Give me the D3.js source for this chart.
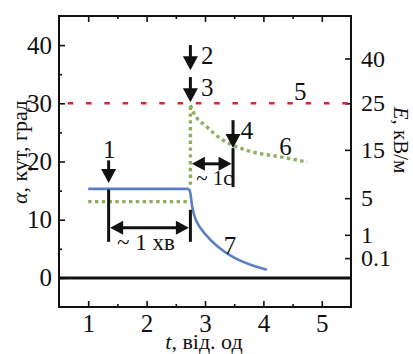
<!DOCTYPE html>
<html><head><meta charset="utf-8">
<script src="https://cdn.jsdelivr.net/npm/d3@7"></script>
<style>body{margin:0;background:#fff}svg{display:block}text{font-family:"Liberation Serif",Tinos,"Times New Roman","DejaVu Serif",serif;fill:#111}</style>
</head><body><svg id="c" width="413" height="354"></svg>
<script>
// ---- data ----
const tTicks = [1, 2, 3, 4, 5];
const tMinor = [1.5, 2.5, 3.5, 4.5];
const alphaTicks = [0, 10, 20, 30, 40];
const alphaMinor = [5, 15, 25, 35];
const eTickLabels = ["40", "25", "15", "5", "1", "0.1"];
const eTickAlpha = [37.7, 30, 22, 13.7, 7.4, 3.4];

const zeroLine = [[0.5, 0], [5.5, 0]];
const thresholdT = [0.65, 5.5];
const thresholdAlpha = 30;

const blueT = [1.0, 2.72, 2.75, 2.775, 2.83, 2.975, 3.2, 3.49, 3.78, 4.06];
const blueA = [15.3, 15.3, 15.0, 12.2, 9.9, 7.7, 5.4, 3.4, 2.2, 1.4];

const greenFlatT = [1.0, 2.72];
const greenFlatA = [13.1, 13.1];
const greenVertT = [2.75, 2.75];
const greenVertA = [16.0, 29.7];
const greenDecayT = [2.75, 2.80, 3.04, 3.26, 3.48, 3.83, 4.29, 4.75];
const greenDecayA = [29.7, 28.5, 25.9, 24.0, 22.8, 21.6, 20.8, 19.9];

// down arrows: t, alpha top, alpha tip, label, label t, label alpha
const arrowT = [1.35, 2.75, 2.75, 3.48];
const arrowTop = [20.2, 40.0, 34.5, 27.1];
const arrowTip = [16.3, 35.7, 30.2, 22.3];
const arrowLbl = ["1", "2", "3", "4"];
const arrowLblT = [1.36, 3.04, 3.04, 3.72];
const arrowLblA = [22.0, 38.2, 32.7, 25.3];

// interval markers
const barsT = [1.35, 2.75, 3.48];
const barsTop = [15.2, 11.7, 22.3];
const barsBot = [6.2, 6.2, 15.6];
const spanFrom = [1.35, 2.75];
const spanTo = [2.75, 3.48];
const spanA = [8.6, 19.6];

const curveLbl = ["5", "6", "7"];
const curveLblT = [4.63, 4.38, 3.43];
const curveLblA = [32.0, 22.6, 5.6];

// ---- chart ----
const FONT = '"Liberation Serif",Tinos,"Times New Roman","DejaVu Serif",serif';
const svg = d3.select("#c");
const L = 59, R = 351, T = 16, B = 307;
const x = d3.scaleLinear().domain([0.5, 5.5]).range([L, R]);
const y = d3.scaleLinear().domain([-5, 45]).range([B, T]);

const fs = 25;

function axisStyle(g) {
  g.attr("font-family", FONT);
  g.select(".domain").remove();
  g.selectAll(".tick line").attr("stroke", "#111").attr("stroke-width", 1.6);
  g.selectAll("text").style("font-family", FONT).style("font-size", fs + "px").attr("fill", "#111");
}
svg.append("g").attr("transform", `translate(0,${B})`)
  .call(d3.axisBottom(x).tickValues(tTicks).tickSize(-6).tickPadding(7).tickFormat(d3.format("d")))
  .call(axisStyle);
svg.append("g").attr("transform", `translate(0,${B})`)
  .call(d3.axisBottom(x).tickValues(tMinor).tickSize(-3).tickFormat(""))
  .call(axisStyle);
svg.append("g").attr("transform", `translate(0,${T})`)
  .call(d3.axisTop(x).tickValues(tTicks).tickSize(-6).tickFormat(""))
  .call(axisStyle);
svg.append("g").attr("transform", `translate(0,${T})`)
  .call(d3.axisTop(x).tickValues(tMinor).tickSize(-3).tickFormat(""))
  .call(axisStyle);
svg.append("g").attr("transform", `translate(${L},0)`)
  .call(d3.axisLeft(y).tickValues(alphaTicks).tickSize(-6).tickPadding(7).tickFormat(d3.format("d")))
  .call(axisStyle);
svg.append("g").attr("transform", `translate(${L},0)`)
  .call(d3.axisLeft(y).tickValues(alphaMinor).tickSize(-3).tickFormat(""))
  .call(axisStyle);
svg.append("g").attr("transform", `translate(${R},0)`)
  .call(d3.axisRight(y).tickValues(eTickAlpha).tickSize(-6).tickPadding(10).tickFormat((d, i) => eTickLabels[i]))
  .call(axisStyle)
  .call(g => g.selectAll("text").style("font-size", "24px"));

// frame
svg.append("rect").attr("x", L).attr("y", T).attr("width", R - L).attr("height", B - T)
  .attr("fill", "none").attr("stroke", "#111").attr("stroke-width", 2);

const line = d3.line().x(d => x(d[0])).y(d => y(d[1]));
const curve = d3.line().x(d => x(d[0])).y(d => y(d[1])).curve(d3.curveMonotoneX);
const zip = (a, b) => a.map((v, i) => [v, b[i]]);

svg.append("path").attr("d", line(zeroLine)).attr("stroke", "#111").attr("stroke-width", 3).attr("fill", "none");
svg.append("path").attr("d", line([[thresholdT[0], thresholdAlpha], [thresholdT[1], thresholdAlpha]]))
  .attr("stroke", "#e3232b").attr("stroke-width", 2.6).attr("stroke-dasharray", "5.5,12.8").attr("fill", "none");

const gcol = "#8fae62";
[[greenFlatT, greenFlatA, line], [greenVertT, greenVertA, line], [greenDecayT, greenDecayA, curve]].forEach(([tt, aa, gen]) => {
  svg.append("path").attr("d", gen(zip(tt, aa))).attr("stroke", gcol).attr("stroke-width", 3.4)
    .attr("stroke-dasharray", "3.4,3.4").attr("fill", "none");
});

svg.append("path").attr("d", line(zip(blueT, blueA).slice(0, 2))).attr("stroke", "#5a7fc2").attr("stroke-width", 2.6).attr("fill", "none");
svg.append("path").attr("d", d3.line().x(d => x(d[0])).y(d => y(d[1])).curve(d3.curveBasis)(zip(blueT, blueA).slice(1)))
  .attr("stroke", "#5a7fc2").attr("stroke-width", 2.6).attr("fill", "none");

const black = "#111";
arrowT.forEach((t, i) => {
  const xp = x(t), y0 = y(arrowTop[i]), y1 = y(arrowTip[i]);
  const h = 14, w = 7.5;
  svg.append("line").attr("x1", xp).attr("x2", xp).attr("y1", y0).attr("y2", y1 - h + 1)
    .attr("stroke", black).attr("stroke-width", 3);
  svg.append("path").attr("d", `M${xp - w},${y1 - h}L${xp + w},${y1 - h}L${xp},${y1}Z`).attr("fill", black);
  svg.append("text").attr("x", x(arrowLblT[i])).attr("y", y(arrowLblA[i])).attr("text-anchor", "middle")
    .attr("dominant-baseline", "central").style("font-size", fs + "px").text(arrowLbl[i]);
});

barsT.forEach((t, i) => {
  svg.append("line").attr("x1", x(t)).attr("x2", x(t)).attr("y1", y(barsTop[i])).attr("y2", y(barsBot[i]))
    .attr("stroke", black).attr("stroke-width", 3);
});
spanFrom.forEach((t0, i) => {
  const xa = x(t0) + 1.5, xb = x(spanTo[i]) - 1.5, yp = y(spanA[i]);
  const h = 13, w = 7;
  svg.append("line").attr("x1", xa + h - 1).attr("x2", xb - h + 1).attr("y1", yp).attr("y2", yp)
    .attr("stroke", black).attr("stroke-width", 3);
  svg.append("path").attr("d", `M${xa},${yp}L${xa + h},${yp - w}L${xa + h},${yp + w}Z`).attr("fill", black);
  svg.append("path").attr("d", `M${xb},${yp}L${xb - h},${yp - w}L${xb - h},${yp + w}Z`).attr("fill", black);
});

svg.append("text").attr("x", x(1.495)).attr("y", y(4.8)).style("font-size", "23px").text("~ 1 хв");
svg.append("text").attr("x", x(2.85)).attr("y", y(16.0)).style("font-size", "21px").text("~ 1c");

curveLbl.forEach((s, i) => {
  svg.append("text").attr("x", x(curveLblT[i])).attr("y", y(curveLblA[i])).attr("text-anchor", "middle")
    .attr("dominant-baseline", "central").style("font-size", fs + "px").text(s);
});

const lt = svg.append("text").attr("transform", "translate(27,152) rotate(-90)").attr("text-anchor", "middle")
  .style("font-size", "22px");
lt.append("tspan").style("font-style", "italic").text("α");
lt.append("tspan").text(", кут, град");
const rt = svg.append("text").attr("transform", "translate(394,140) rotate(90)").attr("text-anchor", "middle")
  .style("font-size", "21px");
rt.append("tspan").style("font-style", "italic").text("E");
rt.append("tspan").text(", кВ/м");
const bt = svg.append("text").attr("x", 204).attr("y", 349).attr("text-anchor", "middle").style("font-size", "22px");
bt.append("tspan").style("font-style", "italic").text("t");
bt.append("tspan").text(", від. од");
</script></body></html>
